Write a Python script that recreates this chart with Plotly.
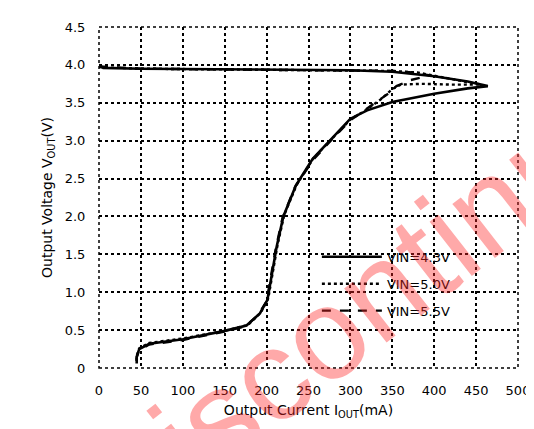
import plotly.graph_objects as go

# Output current (mA) and output voltage (V)
series_names = ["VIN=4.3V", "VIN=5.0V", "VIN=5.5V"]

i_a = [0, 5, 50, 150, 250, 300, 350, 400, 440, 464, 440, 400, 350, 320, 300, 280, 255, 235, 220,
       212, 206, 201, 192, 176, 150, 100, 60, 48, 45, 45]
v_a = [4.0, 3.96, 3.95, 3.94, 3.93, 3.93, 3.91, 3.85, 3.78, 3.72, 3.69, 3.62, 3.51, 3.40, 3.29,
       3.05, 2.76, 2.41, 2.0, 1.6, 1.2, 0.9, 0.72, 0.56, 0.49, 0.38, 0.32, 0.25, 0.15, 0.06]

i_b = [0, 50, 150, 250, 300, 350, 380, 420, 455, 420, 385, 360, 350, 338, 318, 300, 280, 256, 236,
       221, 213, 207, 202, 193, 178, 150, 100, 60, 48, 45, 45]
v_b = [3.97, 3.95, 3.94, 3.93, 3.93, 3.92, 3.9, 3.82, 3.74, 3.74, 3.75, 3.74, 3.68, 3.56, 3.40,
       3.28, 3.05, 2.77, 2.42, 2.02, 1.62, 1.22, 0.92, 0.73, 0.57, 0.49, 0.39, 0.33, 0.26, 0.16, 0.07]

i_c = [0, 50, 150, 250, 300, 350, 375, 395, 372, 355, 345, 335, 320, 300, 279, 255, 234,
       219, 211, 205, 200, 190, 175, 150, 100, 60, 48, 45, 45]
v_c = [3.98, 3.95, 3.94, 3.93, 3.93, 3.92, 3.9, 3.86, 3.80, 3.72, 3.62, 3.54, 3.42, 3.27,
       3.03, 2.74, 2.39, 1.98, 1.58, 1.18, 0.88, 0.70, 0.55, 0.48, 0.37, 0.31, 0.24, 0.14, 0.05]

x_ticks = [0, 50, 100, 150, 200, 250, 300, 350, 400, 450, 500]
x_tick_text = ["0", "50", "100", "150", "200", "250", "300", "350", "400", "450", "500"]
y_ticks = [0, 0.5, 1.0, 1.5, 2.0, 2.5, 3.0, 3.5, 4.0, 4.5]
y_tick_text = ["0", "0.5", "1.0", "1.5", "2.0", "2.5", "3.0", "3.5", "4.0", "4.5"]

fig = go.Figure()
fig.add_trace(go.Scatter(x=i_a, y=v_a, mode="lines", name=series_names[0], legendgroup="a",
                         line=dict(color="black", width=2.6)))
fig.add_trace(go.Scatter(x=i_b, y=v_b, mode="lines", name=series_names[1], legendgroup="b",
                         line=dict(color="black", width=2.4, dash="dot")))
fig.add_trace(go.Scatter(x=i_c, y=v_c, mode="lines", name=series_names[2], legendgroup="c",
                         line=dict(color="black", width=2.4, dash="dash")))

axis_font = dict(family="DejaVu Sans, Arial", size=13, color="black")

fig.update_layout(
    width=534, height=429,
    margin=dict(l=91, r=20, t=18, b=69),
    paper_bgcolor="white", plot_bgcolor="white",
    showlegend=True,
    legend=dict(x=0.52, y=0.37, xanchor="left", yanchor="top", traceorder="grouped",
                bgcolor="rgba(0,0,0,0)", font=dict(family="DejaVu Sans, Arial", size=13, color="black"),
                itemwidth=60, tracegroupgap=7),
    xaxis=dict(range=[0, 500], tickvals=x_ticks, ticktext=x_tick_text, tickfont=axis_font,
               showgrid=True, gridcolor="black", griddash="dot", gridwidth=1.5,
               zeroline=False, showline=False, ticks="outside", ticklen=10, tickcolor="white",
               title=dict(text="Output Current I<sub>OUT</sub>(mA)", font=dict(family="DejaVu Sans, Arial", size=14, color="black"), standoff=8)),
    yaxis=dict(range=[0, 4.5], tickvals=y_ticks, ticktext=y_tick_text, tickfont=axis_font,
               showgrid=True, gridcolor="black", griddash="dot", gridwidth=1.5,
               zeroline=False, showline=False, ticks="outside", ticklen=10, tickcolor="white",
               title=dict(text="Output Voltage V<sub>OUT</sub>(V)", font=dict(family="DejaVu Sans, Arial", size=14, color="black"), standoff=8)),
    shapes=[dict(type="rect", xref="paper", yref="paper", x0=0, y0=0, x1=1, y1=1,
                 line=dict(color="black", width=1.5, dash="dot"))],
    annotations=[dict(text="Discontinued", xref="paper", yref="paper", x=0.70, y=0.255,
                      xanchor="center", yanchor="middle",
                      showarrow=False, textangle=-38,
                      font=dict(family="Liberation Sans, Arial", size=130, color="rgba(255,40,40,0.4)"))],
)

fig.write_html("out.html")
